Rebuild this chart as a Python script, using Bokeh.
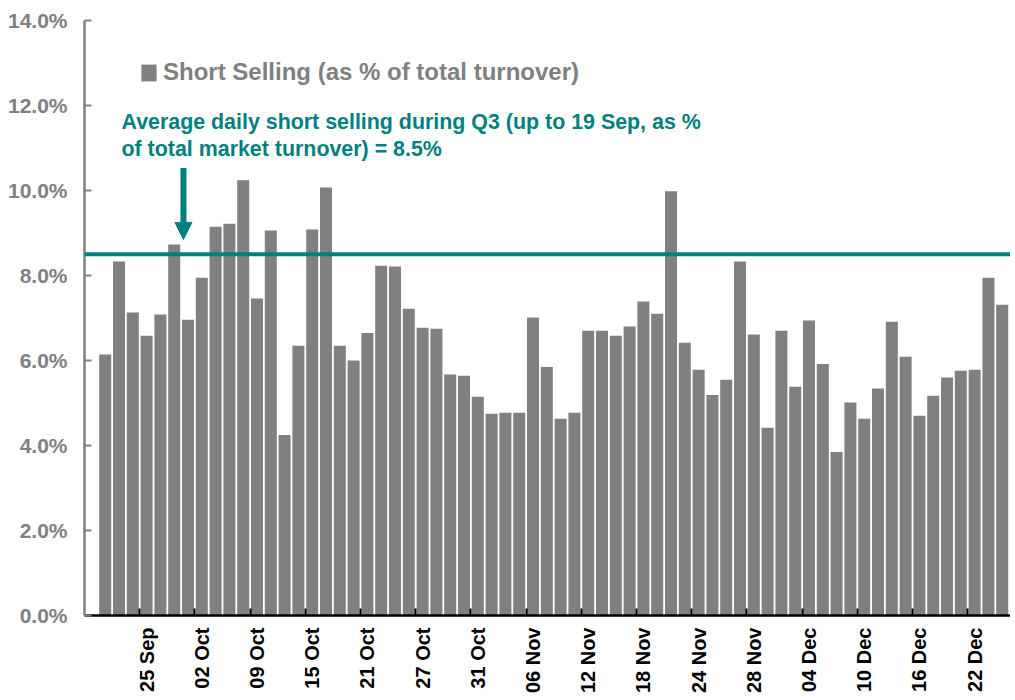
from bokeh.plotting import figure
from bokeh.models import (Range1d, FixedTicker, Span, Label, Arrow,
                          NormalHead, Legend, LegendItem, ColumnDataSource)
from bokeh.embed import file_html
from bokeh.resources import INLINE
from math import pi

# ---- data ----
short_selling_pct = [6.14, 8.33, 7.13, 6.58, 7.08, 8.73, 6.96, 7.95, 9.15, 9.22,
                     10.24, 7.46, 9.06, 4.25, 6.35, 9.08, 10.07, 6.35, 6.00, 6.65,
                     8.23, 8.21, 7.22, 6.77, 6.75, 5.67, 5.64, 5.15, 4.75, 4.77,
                     4.77, 7.01, 5.85, 4.63, 4.77, 6.70, 6.70, 6.58, 6.80, 7.39,
                     7.10, 9.98, 6.42, 5.78, 5.19, 5.55, 8.33, 6.61, 4.42, 6.70,
                     5.38, 6.94, 5.92, 3.85, 5.01, 4.63, 5.34, 6.91, 6.09, 4.70,
                     5.17, 5.60, 5.76, 5.78, 7.95, 7.31]
tick_labels = ["25 Sep", "02 Oct", "09 Oct", "15 Oct", "21 Oct", "27 Oct", "31 Oct",
               "06 Nov", "12 Nov", "18 Nov", "24 Nov", "28 Nov", "04 Dec", "10 Dec",
               "16 Dec", "22 Dec"]
label_step = 4
q3_average = 8.5
y_ticks = [0, 2, 4, 6, 8, 10, 12, 14]

legend_text = "Short Selling (as % of total turnover)"
note_line1 = "Average daily short selling during Q3 (up to 19 Sep, as %"
note_line2 = "of total market turnover) = 8.5%"

GREY = "#808080"
TEAL = "#008080"
FONT = "Liberation Sans"

bar_slots = list(range(1, len(short_selling_pct) + 1))
label_slots = [label_step * (i + 1) for i in range(len(tick_labels))]
boundary_ticks = [s - 0.5 for s in label_slots]

src = ColumnDataSource(dict(x=bar_slots, top=short_selling_pct))

p = figure(width=1010, height=697, x_range=Range1d(-0.5, 66.6), y_range=Range1d(0, 14),
           output_backend="svg", toolbar_location=None,
           min_border_left=84, min_border_right=0, min_border_top=20, min_border_bottom=82)
p.outline_line_color = None
p.xgrid.visible = False
p.ygrid.visible = False
p.background_fill_color = "white"
p.border_fill_color = "white"

bars = p.vbar(x="x", top="top", width=0.87, source=src, fill_color=GREY, line_color=None)

# mean line
p.add_layout(Span(location=q3_average, dimension="width", line_color=TEAL, line_width=4))

# x axis: labels on every 4th trading day, tick marks between the groups
xa = p.xaxis[0]
xa.ticker = FixedTicker(ticks=label_slots, minor_ticks=boundary_ticks)
xa.major_label_overrides = {s: t for s, t in zip(label_slots, tick_labels)}
xa.major_tick_line_color = None
xa.major_tick_in = 0
xa.major_tick_out = 0
xa.minor_tick_in = 7
xa.minor_tick_out = 0
xa.minor_tick_line_color = "black"
xa.minor_tick_line_width = 2
xa.axis_line_color = "black"
xa.axis_line_width = 2.5
xa.major_label_standoff = 12
xa.major_label_orientation = pi / 2
xa.major_label_text_font = FONT
xa.major_label_text_font_style = "bold"
xa.major_label_text_font_size = "20px"
xa.major_label_text_color = "black"

# y axis
ya = p.yaxis[0]
ya.ticker = FixedTicker(ticks=y_ticks)
ya.major_label_overrides = {v: f"{v:.1f}%" for v in y_ticks}
ya.major_tick_in = 7
ya.major_tick_out = 0
ya.minor_tick_line_color = None
ya.axis_line_color = GREY
ya.axis_line_width = 2.5
ya.major_tick_line_color = GREY
ya.major_tick_line_width = 2
ya.major_label_standoff = 17
ya.major_label_text_font = FONT
ya.major_label_text_font_style = "bold"
ya.major_label_text_font_size = "21px"
ya.major_label_text_color = GREY

# legend
legend = Legend(items=[LegendItem(label=legend_text, renderers=[bars])],
                location=(55, 529), padding=0, margin=0, border_line_color=None,
                background_fill_alpha=0, glyph_width=19, glyph_height=21, label_standoff=5,
                label_text_font=FONT, label_text_font_style="bold",
                label_text_font_size="24px", label_text_color=GREY)
p.add_layout(legend, "center")

# annotation
for txt, yv in [(note_line1, 11.61), (note_line2, 10.97)]:
    p.add_layout(Label(x=2.18, y=yv, text=txt, text_font=FONT, text_font_style="bold",
                       text_font_size="21.4px", text_color=TEAL, text_baseline="alphabetic"))

p.add_layout(Arrow(end=NormalHead(size=17, fill_color=TEAL, line_color=TEAL),
                   x_start=6.67, y_start=10.53, x_end=6.67, y_end=8.85,
                   line_color=TEAL, line_width=6))

open("out.html", "w").write(file_html(p, INLINE))
